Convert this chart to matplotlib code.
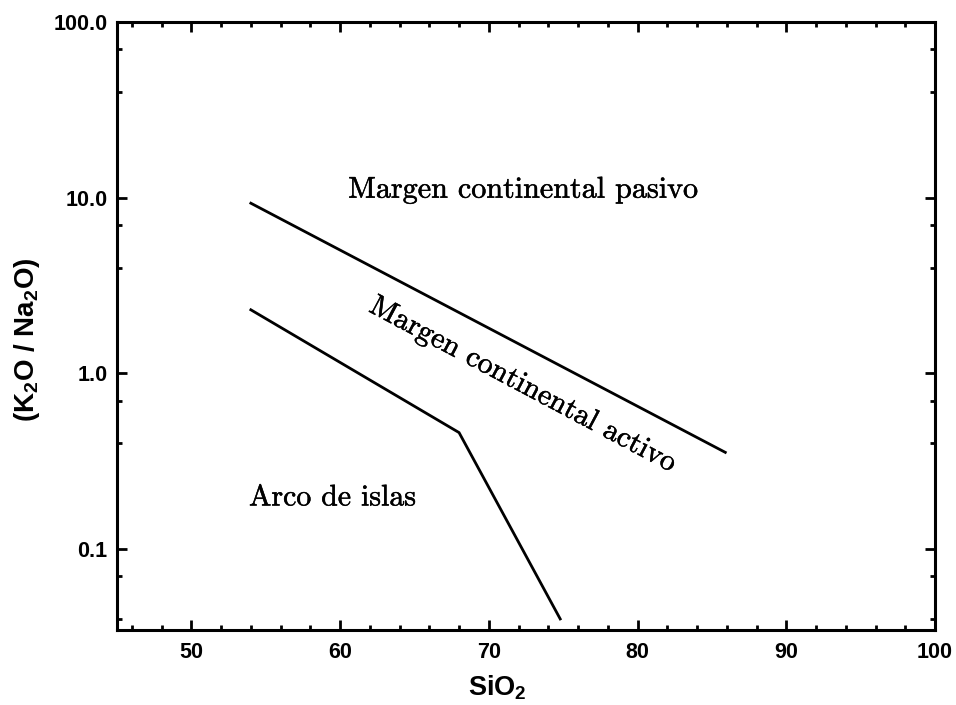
import matplotlib
matplotlib.use("Agg")
import matplotlib.pyplot as plt
import matplotlib.patheffects as pe
from matplotlib.ticker import FixedLocator, FixedFormatter, NullFormatter

plt.rcParams['font.family'] = ['Liberation Sans', 'DejaVu Sans']
plt.rcParams['mathtext.fontset'] = 'custom'
plt.rcParams['mathtext.rm'] = 'Liberation Sans:bold'
plt.rcParams['mathtext.it'] = 'Liberation Sans:bold'
plt.rcParams['mathtext.bf'] = 'Liberation Sans:bold'

# Boundary lines (SiO2, K2O/Na2O)
upper_x = [54.0, 85.9]
upper_y = [9.3, 0.355]
lower_x = [54.0, 68.0, 74.8]
lower_y = [2.3, 0.46, 0.040]

x_ticks = [50, 60, 70, 80, 90, 100]
y_ticks = [0.1, 1.0, 10.0, 100.0]
y_tick_labels = ["0.1", "1.0", "10.0", "100.0"]
y_minor = [0.04, 0.07, 0.4, 0.7, 4, 7, 40, 70]

fig = plt.figure(figsize=(9.56, 7.05), dpi=100)
ax = fig.add_axes([117/956, 1-630/705, (935-117)/956, (630-22)/705])

ax.plot(upper_x, upper_y, color='black', lw=2.0, solid_joinstyle='miter')
ax.plot(lower_x, lower_y, color='black', lw=2.0, solid_joinstyle='miter')

ax.set_yscale('log')
ax.set_xlim(45, 100)
ax.set_ylim(0.0346, 100)

ax.xaxis.set_major_locator(FixedLocator(x_ticks))
ax.xaxis.set_minor_locator(FixedLocator([v for v in range(46, 100, 2) if v % 10 != 0]))
ax.yaxis.set_major_locator(FixedLocator(y_ticks))
ax.yaxis.set_major_formatter(FixedFormatter(y_tick_labels))
ax.yaxis.set_minor_locator(FixedLocator(y_minor))
ax.yaxis.set_minor_formatter(NullFormatter())

for s in ax.spines.values():
    s.set_linewidth(2.2)

ax.tick_params(which='both', direction='in', top=True, right=True, width=2.0)
ax.tick_params(which='major', length=7)
ax.tick_params(which='minor', length=3.5)
ax.tick_params(axis='x', which='major', pad=9)
ax.tick_params(axis='y', which='major', pad=7)
for lab in ax.get_xticklabels() + ax.get_yticklabels():
    lab.set_fontweight('bold')
    lab.set_fontsize(15.5)

ax.text(70.6, -0.072, "SiO$_2$", transform=ax.get_xaxis_transform(), fontsize=19.5,
        fontweight='bold', ha='center', va='top')

fig.text(27/956, 1-340/705, "(K$_2$O / Na$_2$O)", rotation=90, fontsize=20,
         fontweight='bold', ha='center', va='center')

heavy = [pe.withStroke(linewidth=0.35, foreground='black')]
ax.text(72.3, 10.0, "Margen continental pasivo", family='cmr10', fontsize=21.7,
        ha='center', va='baseline', path_effects=heavy)
ax.text(59.5, 0.177, "Arco de islas", family='cmr10', fontsize=21.5,
        ha='center', va='baseline', path_effects=heavy)
ax.text(72.3, 0.86, "Margen continental activo", family='cmr10', fontsize=21.5,
        ha='center', va='center', rotation=-28, rotation_mode='anchor',
        path_effects=heavy)

fig.savefig("out.png", dpi=100)
